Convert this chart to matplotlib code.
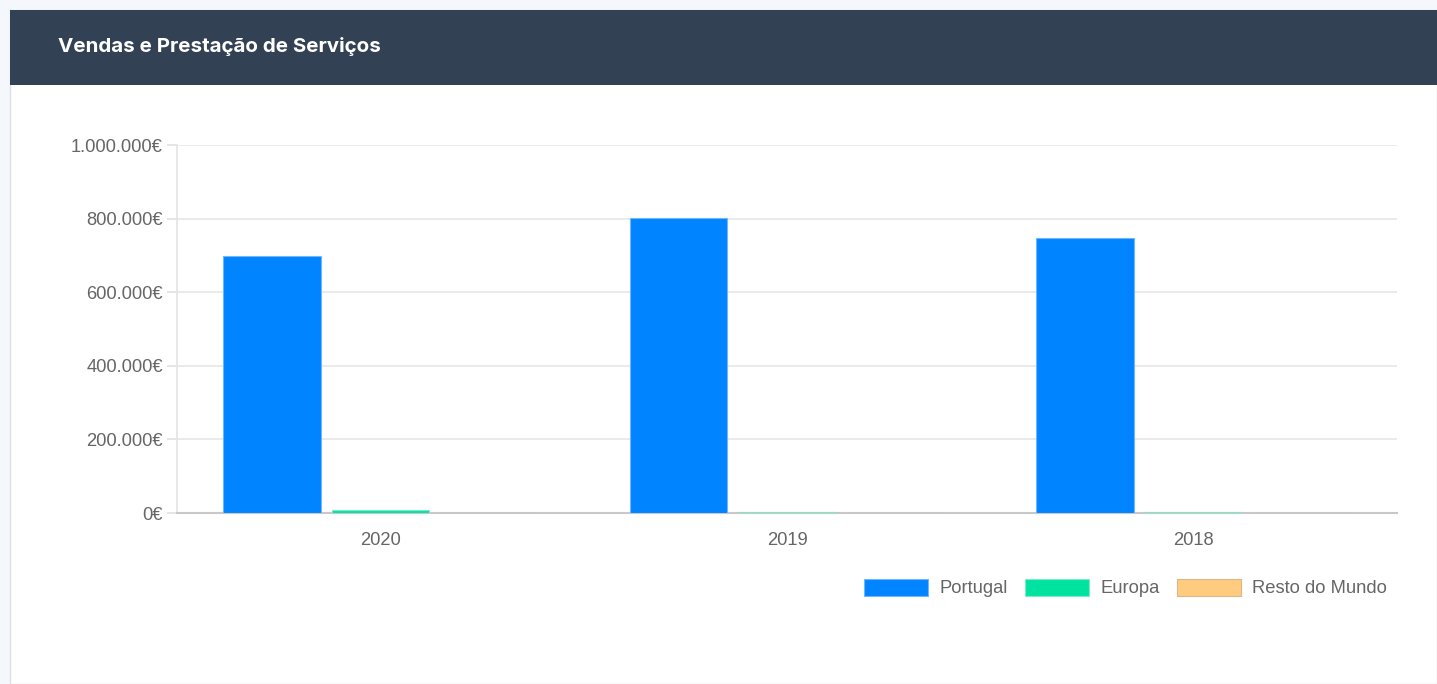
import matplotlib
matplotlib.use("Agg")
import matplotlib.pyplot as plt
from matplotlib.patches import Rectangle, Patch, FancyBboxPatch
from matplotlib.ticker import FuncFormatter
import numpy as np

years = ["2020", "2019", "2018"]
series_names = ["Portugal", "Europa", "Resto do Mundo"]
portugal = [698000, 802000, 746000]
europa = [7500, 2000, 1800]
resto = [0, 0, 0]
title = "Vendas e Prestação de Serviços"

colors = ["#0084ff", "#00e3a0", "#ffcb7f"]
edges = ["#6fb6ff", "#7fe8c8", "#d8b88a"]

W, H = 1437, 684
fig = plt.figure(figsize=(W / 100, H / 100), dpi=100)
fig.patch.set_facecolor("#f4f7fb")

# card
fig.add_artist(Rectangle((10 / W, 0), 1 - 10 / W, 1 - 10 / H, transform=fig.transFigure,
                         facecolor="white", edgecolor="#dcdfe4", linewidth=1.0, zorder=0))
# header
fig.add_artist(Rectangle((10 / W, 1 - 85 / H), 1 - 10 / W, 75 / H, transform=fig.transFigure,
                         facecolor="#334155", edgecolor="none", zorder=1))
fig.text(58 / W, 1 - 47 / H, title, color="white", fontsize=14.8, fontweight="bold",
         family=["Inter", "DejaVu Sans"], va="center", ha="left")

ax = fig.add_axes([177 / W, 171 / H, 1220 / W, 368 / H])
ax.set_facecolor("white")

x = np.arange(len(years))
bw = 0.8 / 3 * 0.9
offs = [-0.8 / 3, 0, 0.8 / 3]
data = [portugal, europa, resto]
for i, vals in enumerate(data):
    ax.bar(x + offs[i], vals, width=bw, color=colors[i], edgecolor=edges[i],
           linewidth=0.8, zorder=3, label=series_names[i])

ax.set_xlim(-0.5, 2.5)
ax.set_ylim(0, 1000000)
ax.set_yticks(np.arange(0, 1000001, 200000))
ax.yaxis.set_major_formatter(FuncFormatter(lambda v, p: f"{int(v):,}".replace(",", ".") + "€"))
ax.set_xticks(x)
ax.set_xticklabels(years)

for s in ["top", "right"]:
    ax.spines[s].set_visible(False)
ax.spines["left"].set_color("#e4e4e4")
ax.spines["left"].set_linewidth(1.2)
ax.spines["bottom"].set_color("#c8c8c8")
ax.spines["bottom"].set_linewidth(1.5)
ax.grid(axis="y", color="#e6e6e6", linewidth=1.2, zorder=0)
ax.set_axisbelow(True)

ax.tick_params(axis="y", length=7.2, width=1.2, color="#e0e0e0", pad=3, labelcolor="#666666")
ax.tick_params(axis="x", length=0, pad=14, labelcolor="#666666")
for lab in ax.get_yticklabels() + ax.get_xticklabels():
    lab.set_fontfamily(["Liberation Sans", "DejaVu Sans"])
    lab.set_fontsize(13.2)

handles = [Patch(facecolor=colors[i], edgecolor=edges[i], linewidth=0.8) for i in range(3)]
leg = fig.legend(handles, series_names, loc="center right",
                 bbox_to_anchor=(1387 / W, 1 - 588 / H), ncol=3, frameon=False,
                 prop=dict(family=["Liberation Sans", "DejaVu Sans"], size=13.2),
                 handlelength=3.5, handleheight=1.05, handletextpad=0.6,
                 columnspacing=0.95, borderpad=0, borderaxespad=0)
for t in leg.get_texts():
    t.set_color("#666666")

fig.savefig("out.png", dpi=100, facecolor=fig.get_facecolor())
